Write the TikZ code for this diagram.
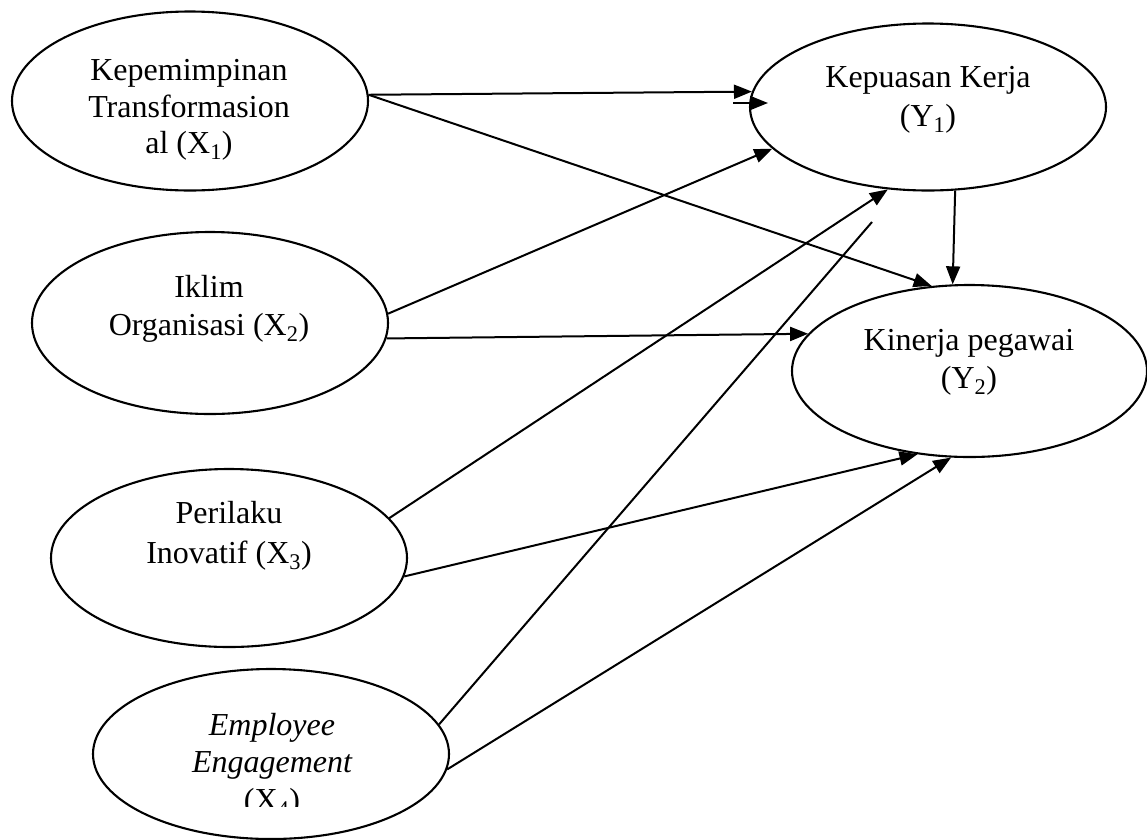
\documentclass[tikz,border=0pt]{standalone}
\usepackage{fontspec}
\setmainfont{Liberation Serif}
\usetikzlibrary{shapes.geometric,arrows.meta}
\tikzset{
  ell/.style={draw, ellipse, inner sep=0pt, line width=2.1pt, minimum width=356pt},
  txt/.style={font=\fontsize{32}{38}\selectfont, inner sep=0pt, anchor=base},
  arr/.style={-{Triangle[length=18pt,width=14pt]}, line width=2pt},
  ln/.style={line width=2pt}
}
\begin{document}
\begin{tikzpicture}[x=1pt,y=-1pt]
\useasboundingbox (0,0) rectangle (1147,839);
% ellipses
\node[ell, minimum height=179pt] (x1) at (190,101) {};
\node[ell, minimum height=182pt] (x2) at (210,323) {};
\node[ell, minimum height=178pt] (x3) at (229,558) {};
\node[ell, minimum height=170pt] (x4) at (271,754) {};
\node[ell, minimum height=167pt] (y1) at (928,107) {};
\node[ell, minimum height=172pt, minimum width=355pt] (y2) at (969.5,371) {};
% texts
\node[txt] (t1a) at (189,80) {Kepemimpinan};
\node[txt] (t1b) at (189,117) {Transformasion};
\node[txt] (t1c) at (189,153) {al (X\textsubscript{1})};
\node[txt] (t2a) at (209,297) {Iklim};
\node[txt] (t2b) at (209,335) {Organisasi (X\textsubscript{2})};
\node[txt] (t3a) at (229,523) {Perilaku};
\node[txt] (t3b) at (229,563) {Inovatif (X\textsubscript{3})};
\node[txt] (t4a) at (272,735) {\itshape Employee};
\node[txt] (t4b) at (272,772) {\itshape Engagement};
\begin{scope}
\clip (0,0) rectangle (1147,806);
\node[txt] (t4c) at (272,810) {(X\textsubscript{4})};
\end{scope}
\node[txt] (ty1a) at (928,87) {Kepuasan Kerja};
\node[txt] (ty1b) at (928,126) {(Y\textsubscript{1})};
\node[txt] (ty2a) at (969,350) {Kinerja pegawai};
\node[txt] (ty2b) at (969,388) {(Y\textsubscript{2})};
% free ends
\coordinate (s1) at (733,103);
\coordinate (s2) at (768,103);
\coordinate (e7) at (872,222);
% connectors
\draw[arr] (x1.2) -- (y1.175);
\draw[arr] (s1) -- (s2);
\draw[arr] (x1.2) -- (y2.114);
\draw[arr] (x2.3) -- (y1.195);
\draw[arr] (x2.355) -- (y2.167);
\draw[arr] (x3.14) -- (y1.244);
\draw[arr] (x3.354) -- (y2.238);
\draw[ln] (x4.10) -- (e7);
\draw[arr] (x4.355) -- (y2.258);
\draw[arr] (y1.288) -- (y2.101);
\end{tikzpicture}
\end{document}
